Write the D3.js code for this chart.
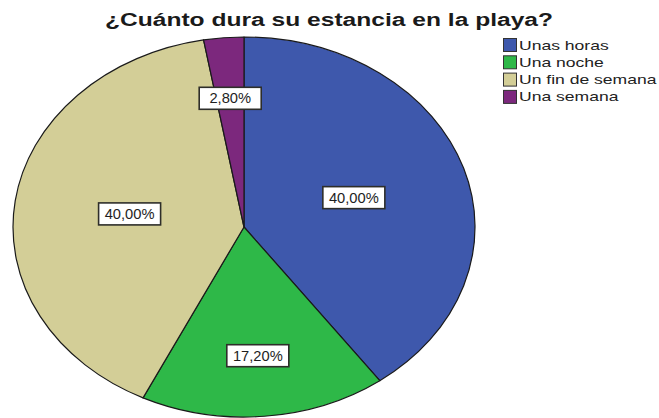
<!DOCTYPE html>
<html>
<head>
<meta charset="utf-8">
<script src="https://cdn.jsdelivr.net/npm/d3@7"></script>
<style>
  html, body { margin: 0; padding: 0; background: #fff; }
  svg { display: block; }
  text { font-family: "Liberation Sans", Arial, sans-serif; }
</style>
</head>
<body>
<svg id="chart" width="659" height="418"></svg>
<script>
// Survey answers: length of the stay at the beach
const categories = ["Unas horas", "Una noche", "Un fin de semana", "Una semana"];
const percentages = [40.0, 17.2, 40.0, 2.8];
const colors = ["#3E58AC", "#2EB848", "#D3CE97", "#7C287D"];
const title = "¿Cuánto dura su estancia en la playa?";

const width = 659, height = 418;
const svg = d3.select("#chart");

// Text in this chart is drawn horizontally stretched
const textStretch = 1.33;

// Pie geometry: a circle stretched into an ellipse
const cx = 244, cy = 227;
const ry = 190, rx = 231;

const pie = d3.pie().sort(null).value(d => d);
const arcs = pie(percentages);
const arc = d3.arc().innerRadius(0).outerRadius(ry);

const pieG = svg.append("g")
  .attr("transform", `translate(${cx},${cy}) scale(${rx / ry},1)`);

pieG.selectAll("path.slice")
  .data(arcs)
  .join("path")
  .attr("class", "slice")
  .attr("d", arc)
  .attr("fill", (d, i) => colors[i])
  .attr("stroke", "#1a1a1a")
  .attr("stroke-width", 1.2)
  .attr("vector-effect", "non-scaling-stroke")
  .attr("stroke-linejoin", "round");

// Value labels: large slices sit halfway out, small ones nearer the rim
const fmt = v => d3.format(".2f")(v).replace(".", ",") + "%";
const labelFrac = v => (v >= 30 ? 0.5 : 0.68);

const labels = svg.append("g");
arcs.forEach((d, i) => {
  const a = (d.startAngle + d.endAngle) / 2;
  const f = labelFrac(d.value);
  const x = cx + rx * f * Math.sin(a);
  const y = cy - ry * f * Math.cos(a);
  const g = labels.append("g").attr("transform", `translate(${x},${y})`);
  const bw = 62, bh = 22;
  g.append("rect")
    .attr("x", -bw / 2).attr("y", -bh / 2)
    .attr("width", bw).attr("height", bh)
    .attr("fill", "#fff")
    .attr("stroke", "#2e2e2a")
    .attr("stroke-width", 1.6);
  g.append("text")
    .attr("transform", "scale(1.05,1)")
    .attr("text-anchor", "middle")
    .attr("dy", "0.36em")
    .attr("font-size", 14)
    .attr("fill", "#1e1e1e")
    .text(fmt(d.value));
});

// Title
svg.append("text")
  .attr("transform", `translate(329,26) scale(${textStretch},1)`)
  .attr("text-anchor", "middle")
  .attr("font-size", 18.5)
  .attr("font-weight", "bold")
  .attr("fill", "#1a1a1a")
  .text(title);

// Legend
const legend = svg.append("g").attr("transform", "translate(503,38)");
const rowH = 17.3;
const rows = legend.selectAll("g.row")
  .data(categories)
  .join("g")
  .attr("class", "row")
  .attr("transform", (d, i) => `translate(0,${i * rowH})`);

rows.append("rect")
  .attr("x", 0.5).attr("y", 0.5)
  .attr("width", 13).attr("height", 13)
  .attr("fill", (d, i) => colors[i])
  .attr("stroke", "#333")
  .attr("stroke-width", 1);

rows.append("text")
  .attr("transform", `translate(16,11.5) scale(${textStretch},1)`)
  .attr("font-size", 13.2)
  .attr("fill", "#222")
  .text(d => d);
</script>
</body>
</html>
